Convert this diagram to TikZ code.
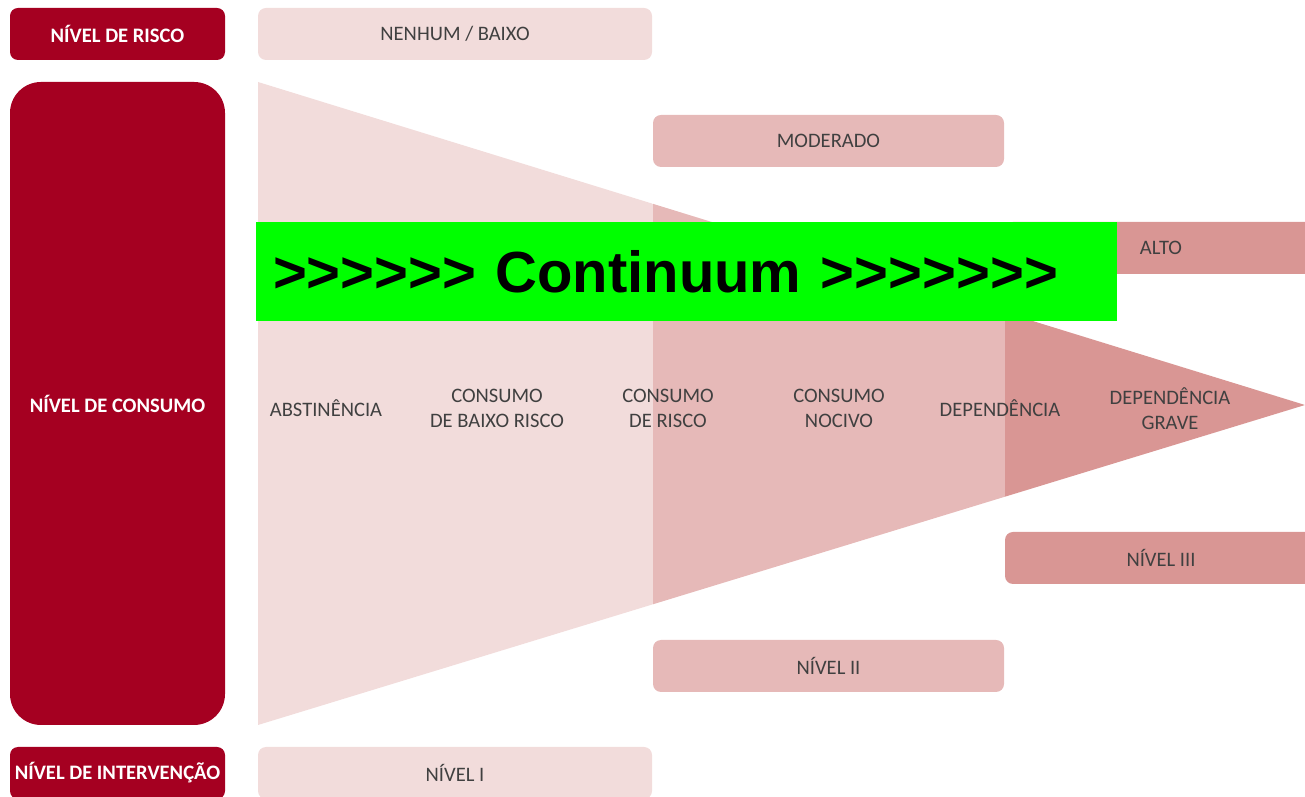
\documentclass[tikz,border=0pt]{standalone}
\usepackage{fontspec}
\setmainfont{Carlito}
\newfontfamily\continuumfont{Liberation Sans}
\definecolor{riskred}{HTML}{A50021}
\definecolor{bandlight}{HTML}{F2DCDB}
\definecolor{bandmid}{HTML}{E6B9B8}
\definecolor{banddark}{HTML}{D99694}
\definecolor{labelgray}{HTML}{404040}
\definecolor{continuumgreen}{HTML}{00FF00}
\usetikzlibrary{positioning}
\tikzset{
    levelhead/.style={
        fill=riskred,
        text=white,
        rounded corners=0.16cm,
        minimum width=4.3cm,
        minimum height=1.04cm,
        inner sep=0pt,
        align=center,
        font=\bfseries\fontsize{11.7}{14}\selectfont
    },
    levelbox/.style={
        rounded corners=0.16cm,
        minimum height=1.04cm,
        inner sep=0pt,
        text=labelgray,
        font=\fontsize{11.7}{14}\selectfont
    },
    levellight/.style={
        levelbox,
        fill=bandlight,
        minimum width=7.88cm
    },
    levelmid/.style={
        levelbox,
        fill=bandmid,
        minimum width=7.02cm
    },
    leveldark/.style={
        levelbox,
        fill=banddark,
        minimum width=6.24cm
    },
    stagelabel/.style={
        inner sep=0pt,
        align=center,
        text=labelgray,
        font=\fontsize{11.7}{14.2}\selectfont
    },
    continuumbar/.style={
        fill=continuumgreen,
        minimum width=17.22cm,
        minimum height=1.98cm,
        inner xsep=0.34cm,
        text width=16.54cm,
        align=left,
        font=\continuumfont\bfseries\fontsize{33}{36}\selectfont
    }
}

\begin{document}
\begin{tikzpicture}
        \useasboundingbox (0,0) rectangle (26.1,15.94);
        \clip (0,0) rectangle (26.1,15.94);

        % consumption wedge, three bands
        \coordinate (wedgetop) at (5.16,14.30);
        \coordinate (wedgetip) at (26.1,7.84);
        \coordinate (wedgebottom) at (5.16,1.44);
        \begin{scope}
            \clip (wedgetop) -- (wedgetip) -- (wedgebottom) -- cycle;
            \fill[bandlight] (5.16,0) rectangle (13.06,16);
            \fill[bandmid] (13.06,0) rectangle (20.10,16);
            \fill[banddark] (20.10,0) rectangle (26.1,16);
        \end{scope}

        % row heads
        \node[levelhead] (riskhead) at (2.35,15.26) {NÍVEL DE RISCO};
        \node[levelhead,minimum height=12.86cm,rounded corners=0.62cm] (consumohead) at (2.35,7.87)
            {NÍVEL DE CONSUMO};
        \node[levelhead] (intervhead) at (2.35,0.48) {NÍVEL DE INTERVENÇÃO};

        % risk levels
        \node[levellight] (riskbaixo) at (9.10,15.26) {NENHUM / BAIXO};
        \node[levelmid] (riskmoderado) at (16.57,13.12) {MODERADO};
        \node[leveldark] (riskalto) at (23.22,10.98) {ALTO};

        % intervention levels
        \node[levellight] (nivelone) at (9.10,0.48) {NÍVEL I};
        \node[levelmid] (niveltwo) at (16.57,2.62) {NÍVEL II};
        \node[leveldark] (nivelthree) at (23.22,4.78) {NÍVEL III};

        % consumption stages
        \node[stagelabel] (abstinencia) at (6.52,7.77) {ABSTINÊNCIA};
        \node[stagelabel] (baixorisco) at (9.94,7.77) {CONSUMO\\DE BAIXO RISCO};
        \node[stagelabel] (derisco) at (13.36,7.77) {CONSUMO\\DE RISCO};
        \node[stagelabel] (nocivo) at (16.78,7.77) {CONSUMO\\NOCIVO};
        \node[stagelabel] (dependencia) at (20.00,7.77) {DEPENDÊNCIA};
        \node[stagelabel] (grave) at (23.40,7.77) {DEPENDÊNCIA\\GRAVE};

        % overlay bar
        \node[continuumbar] (continuum) at (13.73,10.51)
            {>>>>>> Continuum >>>>>>>};
    \end{tikzpicture}
\end{document}
